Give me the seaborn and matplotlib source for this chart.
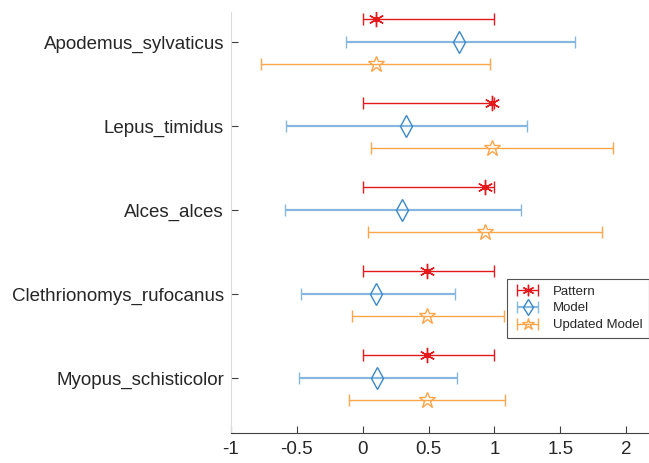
import numpy as np
import seaborn as sns
import matplotlib.pyplot as plt
from matplotlib.container import ErrorbarContainer
from matplotlib.legend_handler import HandlerErrorbar

# species, top to bottom
species = ["Apodemus_sylvaticus", "Lepus_timidus", "Alces_alces",
           "Clethrionomys_rufocanus", "Myopus_schisticolor"]

# centre value, lower end, upper end of each bar
pattern_mid = [0.10, 0.98, 0.93, 0.49, 0.49]
pattern_lo = [0.0, 0.0, 0.0, 0.0, 0.0]
pattern_hi = [1.0, 1.0, 1.0, 1.0, 1.0]

model_mid = [0.73, 0.33, 0.30, 0.10, 0.11]
model_lo = [-0.13, -0.58, -0.59, -0.47, -0.48]
model_hi = [1.61, 1.25, 1.20, 0.70, 0.72]

updated_mid = [0.10, 0.98, 0.93, 0.49, 0.49]
updated_lo = [-0.77, 0.06, 0.04, -0.08, -0.10]
updated_hi = [0.97, 1.90, 1.82, 1.07, 1.08]

xticks = [-1, -0.5, 0, 0.5, 1, 1.5, 2]
xticklabels = ["-1", "-0.5", "0", "0.5", "1", "1.5", "2"]

sns.set_theme(style="white")
plt.rcParams['font.family'] = ['Liberation Sans', 'DejaVu Sans']

fig = plt.figure(figsize=(6.49, 4.63), dpi=100)
ax = fig.add_axes([0.3559, 0.0648, 0.6493, 0.9093])

ypos = np.arange(len(species), 0, -1).astype(float)

red = "#e3191c"
blue = "#3a88c9"
blue_line = "#86b8df"
orange = "#fea54a"


def draw(mid, lo, hi, off, color, ecolor, marker, ms, lw, label):
    mid = np.array(mid)
    err = np.vstack([mid - np.array(lo), np.array(hi) - mid])
    ax.errorbar(mid, ypos + off, xerr=err, fmt="", marker=marker,
                linestyle="none", color=color, mfc="none", mec=color,
                mew=1.0, ms=ms, ecolor=ecolor, elinewidth=lw, capsize=4,
                capthick=lw, label=label)


draw(pattern_mid, pattern_lo, pattern_hi, 0.27, red, red, (6, 2, 0), 11,
     1.0, "Pattern")
ax.plot(pattern_mid, ypos + 0.27, linestyle="none", marker="o", ms=3,
        mfc=red, mec=red)
draw(model_mid, model_lo, model_hi, 0.0, blue, blue_line, "d", 11, 1.6,
     "Model")
draw(updated_mid, updated_lo, updated_hi, -0.265, orange, orange, "*", 12,
     1.0, "Updated Model")

ax.set_xlim(-1, 2.2)
ax.set_ylim(0.345, 5.357)
ax.set_xticks(xticks)
ax.set_xticklabels(xticklabels)
ax.set_yticks(ypos)
ax.set_yticklabels(species)

for side in ["top", "right"]:
    ax.spines[side].set_visible(False)
ax.spines["left"].set_color("#dcdcdc")
ax.spines["left"].set_linewidth(0.8)
ax.spines["bottom"].set_color("#404040")
ax.spines["bottom"].set_linewidth(0.8)

ax.tick_params(axis="both", direction="in", length=5, width=0.8,
               colors="#404040", labelsize=13.5, labelcolor="#262626",
               bottom=True, left=True)
ax.tick_params(axis="y", pad=5)
ax.tick_params(axis="x", pad=6)

leg = ax.legend(loc="lower right", bbox_to_anchor=(1.0 - 3.4 / 421, 0.226),
                borderaxespad=0, fontsize=9.5, frameon=True, fancybox=False,
                edgecolor="#262626", handlelength=2.2, labelspacing=0.35,
                borderpad=0.5, markerscale=0.75,
                handler_map={ErrorbarContainer: HandlerErrorbar(xerr_size=0.8)})
leg.get_frame().set_linewidth(0.8)

fig.savefig("out.png", dpi=100)
